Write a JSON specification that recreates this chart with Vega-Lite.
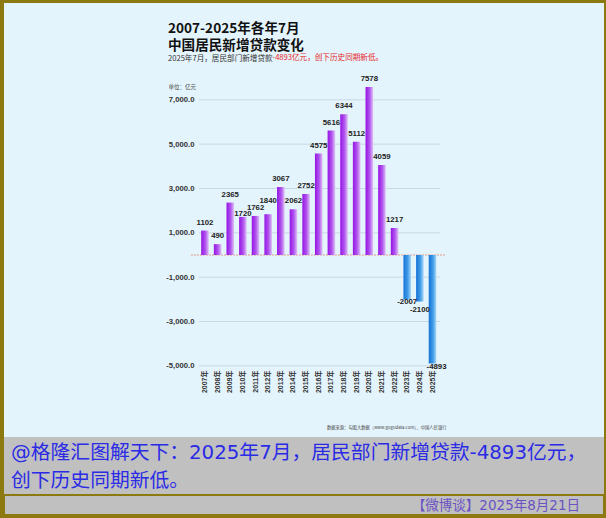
{
  "$schema": "https://vega.github.io/schema/vega-lite/v6.json",
  "background": "#8c7a10",
  "padding": 3,
  "spacing": 0,
  "bounds": "flush",
  "config": {
    "view": {"stroke": null},
    "font": "Noto Sans CJK SC",
    "text": {"font": "Liberation Sans", "fontSize": 7.8, "fontWeight": "bold", "color": "#222222"}
  },
  "vconcat": [
    {
      "width": 600,
      "height": 434,
      "view": {"fill": "#e4f4fc", "stroke": null},
      "resolve": {"axis": {"y": "independent"}},
      "title": {
        "text": ["2007-2025年各年7月", "中国居民新增贷款变化"],
        "subtitle": "2025年7月，居民部门新增贷款",
        "anchor": "start",
        "frame": "group",
        "orient": "top",
        "offset": -60,
        "dx": 164,
        "font": "Noto Sans CJK SC",
        "fontSize": 13.6,
        "fontWeight": "bold",
        "color": "#111111",
        "lineHeight": 17,
        "subtitleFont": "Noto Sans CJK SC",
        "subtitleFontSize": 7.6,
        "subtitleColor": "#333333",
        "subtitlePadding": 3
      },
      "data": {
        "values": [
          {"year": "2007年", "value": 1102},
          {"year": "2008年", "value": 490},
          {"year": "2009年", "value": 2365},
          {"year": "2010年", "value": 1720},
          {"year": "2011年", "value": 1762},
          {"year": "2012年", "value": 1840},
          {"year": "2013年", "value": 3067},
          {"year": "2014年", "value": 2062},
          {"year": "2015年", "value": 2752},
          {"year": "2016年", "value": 4575},
          {"year": "2017年", "value": 5616},
          {"year": "2018年", "value": 6344},
          {"year": "2019年", "value": 5112},
          {"year": "2020年", "value": 7578},
          {"year": "2021年", "value": 4059},
          {"year": "2022年", "value": 1217},
          {"year": "2023年", "value": -2007},
          {"year": "2024年", "value": -2100},
          {"year": "2025年", "value": -4893}
        ]
      },
      "layer": [
        {
          "data": {"values": [{"g": 7000}, {"g": 5000}, {"g": 3000}, {"g": 1000}, {"g": -1000}, {"g": -3000}, {"g": -5000}]},
          "mark": {"type": "rule", "color": "#c8d8e2", "strokeWidth": 1},
          "encoding": {
            "y": {
              "field": "g", "type": "quantitative",
              "scale": {"domain": [-8210, 11368], "nice": false, "zero": false},
              "axis": {
                "orient": "left",
                "offset": -195,
                "values": [7000, 5000, 3000, 1000, -1000, -3000, -5000],
                "format": ",.1f",
                "labelExpr": "replace(datum.label, '−', '-')",
                "grid": false,
                "domain": false,
                "ticks": false,
                "labelPadding": 5,
                "labelFont": "Liberation Sans",
                "labelFontSize": 7.7,
                "labelFontWeight": "bold",
                "labelColor": "#333333",
                "title": "单位：亿元",
                "titleAngle": 0,
                "titleAlign": "left",
                "titleBaseline": "middle",
                "titleX": -31,
                "titleY": 83,
                "titleFont": "Noto Sans CJK SC",
                "titleFontSize": 5.5,
                "titleFontWeight": "normal",
                "titleColor": "#444444"
              }
            },
            "x": {
              "datum": "2007年", "type": "nominal", "bandPosition": -0.29,
              "scale": {
                "type": "band",
                "domain": ["2007年", "2008年", "2009年", "2010年", "2011年", "2012年", "2013年", "2014年", "2015年", "2016年", "2017年", "2018年", "2019年", "2020年", "2021年", "2022年", "2023年", "2024年", "2025年"],
                "range": [197.2, 432.3],
                "paddingInner": 0.4,
                "paddingOuter": 0
              },
              "axis": {
                "orient": "bottom",
                "offset": -70,
                "domain": false,
                "ticks": false,
                "labelAngle": -90,
                "labelPadding": 3,
                "labelFont": "Liberation Sans, Noto Sans CJK SC",
                "labelFontSize": 7,
                "labelFontWeight": "bold",
                "labelColor": "#333333",
                "title": "数据来源：勾股大数据（www.gogudata.com）、中国人民银行",
                "titleFont": "Noto Sans CJK SC",
                "titleFontSize": 4.3,
                "titleFontWeight": "normal",
                "titleColor": "#444444",
                "titleAnchor": "end",
                "titleAlign": "right",
                "titleX": 442,
                "titleY": 58
              }
            },
            "x2": {"datum": "2025年", "bandPosition": 1.49}
          }
        },
        {
          "data": {"values": [{"zero": 0}]},
          "mark": {"type": "rule", "color": "#e29888", "strokeWidth": 1, "strokeDash": [2, 1]},
          "encoding": {
            "y": {
              "field": "zero", "type": "quantitative",
              "axis": {
                "orient": "right",
                "labels": false,
                "ticks": false,
                "domain": false,
                "grid": false,
                "title": "-4893亿元，创下历史同期新低。",
                "titleAngle": 0,
                "titleAlign": "left",
                "titleBaseline": "alphabetic",
                "titleX": -332,
                "titleY": 56.5,
                "titleFont": "Noto Sans CJK SC",
                "titleFontSize": 7.6,
                "titleFontWeight": "normal",
                "titleColor": "#e8262a"
              }
            },
            "x": {"datum": "2007年", "type": "nominal", "bandPosition": -1.35},
            "x2": {"datum": "2025年", "bandPosition": 2.28}
          }
        },
        {
          "transform": [{"filter": "datum.value >= 0"}],
          "mark": {
            "type": "bar",
            "color": {
              "gradient": "linear", "x1": 0, "x2": 1, "y1": 0, "y2": 0,
              "stops": [
                {"offset": 0, "color": "#9614e4"},
                {"offset": 0.55, "color": "#b055ee"},
                {"offset": 1, "color": "#e0c2f6"}
              ]
            }
          },
          "encoding": {
            "x": {"field": "year", "type": "nominal", "sort": null},
            "y": {"field": "value", "type": "quantitative", "axis": null}
          }
        },
        {
          "transform": [{"filter": "datum.value < 0"}],
          "mark": {
            "type": "bar",
            "color": {
              "gradient": "linear", "x1": 0, "x2": 1, "y1": 0, "y2": 0,
              "stops": [
                {"offset": 0, "color": "#1674d8"},
                {"offset": 0.55, "color": "#3f9ae8"},
                {"offset": 1, "color": "#a8d8f8"}
              ]
            }
          },
          "encoding": {
            "x": {"field": "year", "type": "nominal", "sort": null},
            "y": {"field": "value", "type": "quantitative", "axis": null}
          }
        },
        {
          "transform": [{"filter": "datum.value >= 0 && datum.year !== '2010年' && datum.year !== '2012年'"}],
          "mark": {"type": "text", "baseline": "alphabetic", "dy": -6},
          "encoding": {
            "x": {"field": "year", "type": "nominal", "sort": null},
            "y": {"field": "value", "type": "quantitative", "axis": null},
            "text": {"field": "value", "type": "nominal"}
          }
        },
        {
          "transform": [{"filter": "datum.year === '2010年'"}],
          "mark": {"type": "text", "baseline": "alphabetic", "dy": -1},
          "encoding": {
            "x": {"field": "year", "type": "nominal", "sort": null},
            "y": {"field": "value", "type": "quantitative", "axis": null},
            "text": {"field": "value", "type": "nominal"}
          }
        },
        {
          "transform": [{"filter": "datum.year === '2012年'"}],
          "mark": {"type": "text", "baseline": "alphabetic", "dy": -11},
          "encoding": {
            "x": {"field": "year", "type": "nominal", "sort": null},
            "y": {"field": "value", "type": "quantitative", "axis": null},
            "text": {"field": "value", "type": "nominal"}
          }
        },
        {
          "transform": [{"filter": "datum.year === '2023年'"}],
          "mark": {"type": "text", "baseline": "top", "dy": -1},
          "encoding": {
            "x": {"field": "year", "type": "nominal", "sort": null},
            "y": {"field": "value", "type": "quantitative", "axis": null},
            "text": {"field": "value", "type": "nominal"}
          }
        },
        {
          "transform": [{"filter": "datum.year === '2024年'"}],
          "mark": {"type": "text", "baseline": "top", "dy": 4.5},
          "encoding": {
            "x": {"field": "year", "type": "nominal", "sort": null},
            "y": {"field": "value", "type": "quantitative", "axis": null},
            "text": {"field": "value", "type": "nominal"}
          }
        },
        {
          "transform": [{"filter": "datum.year === '2025年'"}],
          "mark": {"type": "text", "baseline": "top", "dy": 0, "dx": 4},
          "encoding": {
            "x": {"field": "year", "type": "nominal", "sort": null},
            "y": {"field": "value", "type": "quantitative", "axis": null},
            "text": {"field": "value", "type": "nominal"}
          }
        }
      ]
    },
    {
      "width": 600,
      "height": 58,
      "view": {"fill": "#c0c0c0", "stroke": null},
      "title": {
        "text": ["@格隆汇图解天下：2025年7月，居民部门新增贷款-4893亿元，", "创下历史同期新低。"],
        "anchor": "start",
        "frame": "group",
        "orient": "top",
        "offset": -54,
        "dx": 7,
        "font": "DejaVu Sans, Noto Sans CJK SC",
        "fontSize": 19.8,
        "fontWeight": "normal",
        "color": "#2b2be6",
        "lineHeight": 28
      },
      "data": {"values": []},
      "mark": "point"
    },
    {
      "width": 600,
      "height": 20,
      "view": {"fill": "#c0c0c0", "stroke": "#8c7a10", "strokeWidth": 2},
      "title": {
        "text": "【微博谈】2025年8月21日",
        "anchor": "end",
        "frame": "group",
        "orient": "top",
        "offset": -17,
        "dx": -24,
        "font": "DejaVu Sans, Noto Sans CJK SC",
        "fontSize": 13.5,
        "fontWeight": "normal",
        "color": "#6b52c4"
      },
      "data": {"values": []},
      "mark": "point"
    }
  ]
}
